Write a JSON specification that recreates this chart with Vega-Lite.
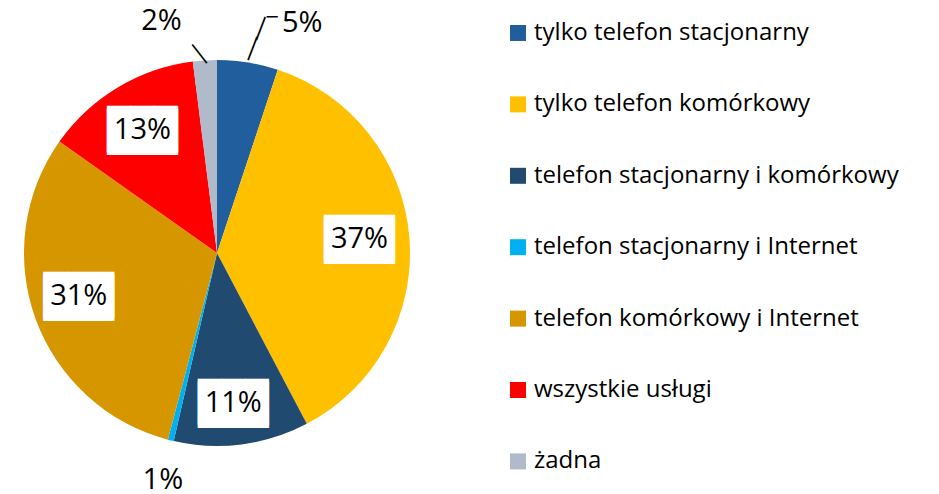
{
  "$schema": "https://vega.github.io/schema/vega-lite/v6.json",
  "width": 434,
  "height": 482,
  "autosize": {"type": "none"},
  "padding": {"left": 0, "top": 12, "right": 505, "bottom": 0},
  "background": "white",
  "config": {"view": {"stroke": null}},
  "data": {"values": [
    {"cat": "tylko telefon stacjonarny", "value": 5.1, "label": "5%", "idx": 1},
    {"cat": "tylko telefon komórkowy", "value": 37.2, "label": "37%", "idx": 2},
    {"cat": "telefon stacjonarny i komórkowy", "value": 11.3, "label": "11%", "idx": 3},
    {"cat": "telefon stacjonarny i Internet", "value": 0.5, "label": "1%", "idx": 4},
    {"cat": "telefon komórkowy i Internet", "value": 30.7, "label": "31%", "idx": 5},
    {"cat": "wszystkie usługi", "value": 13.2, "label": "13%", "idx": 6},
    {"cat": "żadna", "value": 2.0, "label": "2%", "idx": 7}
  ]},
  "encoding": {
    "theta": {"field": "value", "type": "quantitative", "stack": true},
    "order": {"field": "idx", "type": "quantitative", "sort": "ascending"}
  },
  "layer": [
    {
      "mark": {"type": "arc", "outerRadius": 193},
      "encoding": {
        "color": {
          "field": "cat", "type": "nominal", "sort": null,
          "scale": {
            "domain": ["tylko telefon stacjonarny", "tylko telefon komórkowy", "telefon stacjonarny i komórkowy", "telefon stacjonarny i Internet", "telefon komórkowy i Internet", "wszystkie usługi", "żadna"],
            "range": ["#205E9E", "#FFC000", "#204A6F", "#00B0F0", "#D69600", "#FF0000", "#B1BACA"]
          },
          "legend": {
            "title": null, "orient": "none", "legendX": 506, "legendY": 9,
            "symbolType": "square", "symbolSize": 256, "symbolStrokeWidth": 0,
            "labelFont": "Open Sans", "labelFontSize": 24, "labelColor": "#000000",
            "labelOffset": 4, "rowPadding": 47.4, "labelLimit": 500
          }
        }
      }
    },
    {
      "mark": {"type": "text", "radius": 144, "dx": -1, "dy": -2, "font": "DejaVu Sans Mono", "fontSize": 39, "lineHeight": 3, "color": "white"},
      "encoding": {"text": {"condition": {"test": "datum.idx == 2", "value": ["███", "███"]}, "value": ""}}
    },
    {
      "mark": {"type": "text", "radius": 144, "dx": -1, "dy": -2, "font": "Open Sans", "fontSize": 29, "color": "black"},
      "encoding": {"text": {"condition": {"test": "datum.idx == 2", "field": "label"}, "value": ""}}
    },
    {
      "mark": {"type": "text", "radius": 150, "dx": -3, "dy": 1, "font": "DejaVu Sans Mono", "fontSize": 39, "lineHeight": 3, "color": "white"},
      "encoding": {"text": {"condition": {"test": "datum.idx == 3", "value": ["███", "███"]}, "value": ""}}
    },
    {
      "mark": {"type": "text", "radius": 150, "dx": -3, "dy": 1, "font": "Open Sans", "fontSize": 29, "color": "black"},
      "encoding": {"text": {"condition": {"test": "datum.idx == 3", "field": "label"}, "value": ""}}
    },
    {
      "mark": {"type": "text", "radius": 145, "dx": -2, "dy": -7, "font": "DejaVu Sans Mono", "fontSize": 39, "lineHeight": 3, "color": "white"},
      "encoding": {"text": {"condition": {"test": "datum.idx == 5", "value": ["███", "███"]}, "value": ""}}
    },
    {
      "mark": {"type": "text", "radius": 145, "dx": -2, "dy": -7, "font": "Open Sans", "fontSize": 29, "color": "black"},
      "encoding": {"text": {"condition": {"test": "datum.idx == 5", "field": "label"}, "value": ""}}
    },
    {
      "mark": {"type": "text", "radius": 145, "dx": 0, "dy": 1, "font": "DejaVu Sans Mono", "fontSize": 39, "lineHeight": 3, "color": "white"},
      "encoding": {"text": {"condition": {"test": "datum.idx == 6", "value": ["███", "███"]}, "value": ""}}
    },
    {
      "mark": {"type": "text", "radius": 145, "dx": 0, "dy": 1, "font": "Open Sans", "fontSize": 29, "color": "black"},
      "encoding": {"text": {"condition": {"test": "datum.idx == 6", "field": "label"}, "value": ""}}
    },
    {
      "mark": {"type": "text", "radius": 240, "dx": 47, "dy": 7, "font": "Open Sans", "fontSize": 29, "color": "black"},
      "encoding": {"text": {"condition": {"test": "datum.idx == 1", "field": "label"}, "value": ""}}
    },
    {
      "mark": {"type": "text", "radius": 232, "dx": -41, "dy": 0, "font": "Open Sans", "fontSize": 29, "color": "black"},
      "encoding": {"text": {"condition": {"test": "datum.idx == 7", "field": "label"}, "value": ""}}
    },
    {
      "mark": {"type": "text", "radius": 230, "dx": 1, "dy": 4, "font": "Open Sans", "fontSize": 29, "color": "black"},
      "encoding": {"text": {"condition": {"test": "datum.idx == 4", "field": "label"}, "value": ""}}
    },
    {
      "mark": {"type": "text", "radius": 207, "dx": 2.2, "dy": 0.3, "angle": 21, "font": "DejaVu Sans", "fontSize": 21, "color": "black"},
      "encoding": {"text": {"condition": {"test": "datum.idx == 1", "value": "│"}, "value": ""}}
    },
    {
      "mark": {"type": "text", "radius": 229, "dx": 7.2, "dy": 0.1, "angle": 21, "font": "DejaVu Sans", "fontSize": 21, "color": "black"},
      "encoding": {"text": {"condition": {"test": "datum.idx == 1", "value": "│"}, "value": ""}}
    },
    {
      "mark": {"type": "text", "radius": 240, "dx": 17, "dy": 2, "font": "DejaVu Sans", "fontSize": 18, "color": "black"},
      "encoding": {"text": {"condition": {"test": "datum.idx == 1", "value": "─"}, "value": ""}}
    },
    {
      "mark": {"type": "text", "radius": 202, "dx": -5.3, "dy": 0, "angle": -38, "font": "DejaVu Sans", "fontSize": 20, "color": "black"},
      "encoding": {"text": {"condition": {"test": "datum.idx == 7", "value": "│"}, "value": ""}}
    }
  ]
}
